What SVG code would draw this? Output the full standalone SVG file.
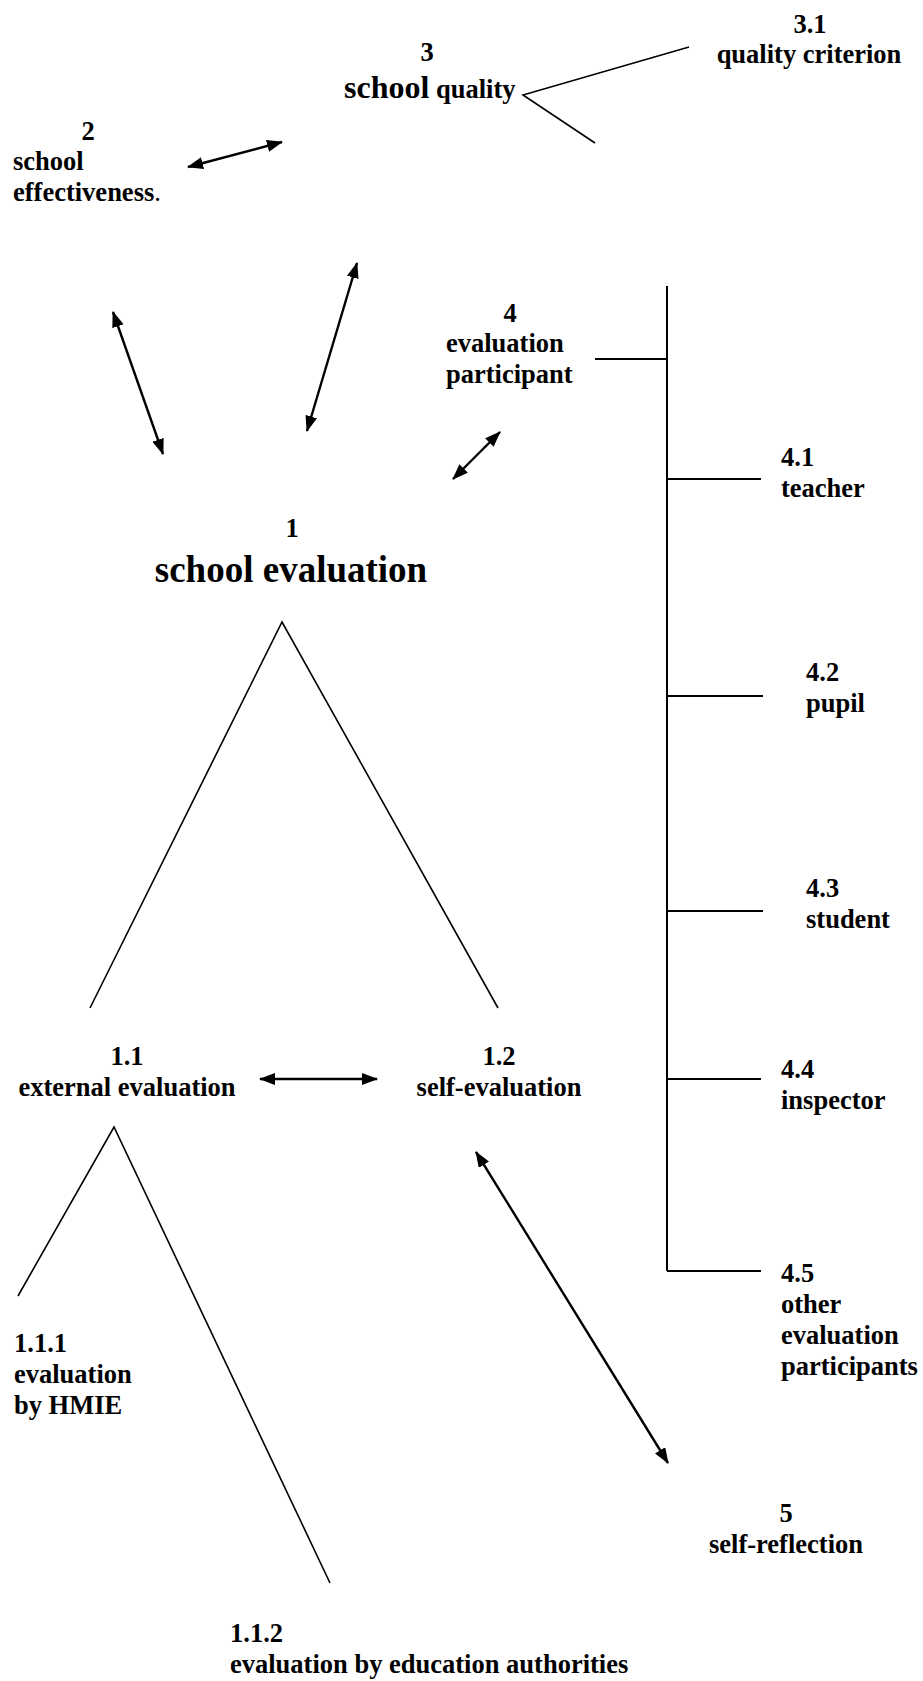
<svg xmlns="http://www.w3.org/2000/svg" width="923" height="1681" viewBox="0 0 923 1681">
  <style>
    text { font-family: "Liberation Serif", "Times New Roman", serif; font-weight: bold; font-size: 26.5px; fill: #000; }
    .mid { text-anchor: middle; }
    .big { font-size: 37px; }
    .tree { stroke: #000; stroke-width: 1.6; fill: none; }
    .branch { stroke: #000; stroke-width: 2; fill: none; }
    .arrow { stroke: #000; stroke-width: 2.4; fill: none; marker-start: url(#head); marker-end: url(#head); }
  </style>
  <defs>
    <marker id="head" viewBox="0 0 16 12" refX="15" refY="6" markerWidth="16" markerHeight="12" markerUnits="userSpaceOnUse" orient="auto-start-reverse">
      <path d="M0,0 L16,6 L0,12 z" fill="#000"/>
    </marker>
  </defs>
  <rect width="923" height="1681" fill="#fff"/>

  <!-- connectors -->
  <g id="connectors">
    <!-- quality criterion fork -->
    <polyline class="tree" points="689,47 523,95 595,143"/>
    <!-- participant bracket -->
    <line class="branch" x1="595" y1="359" x2="667" y2="359"/>
    <line class="branch" x1="667" y1="286" x2="667" y2="1271"/>
    <line class="branch" x1="667" y1="479" x2="761" y2="479"/>
    <line class="branch" x1="667" y1="696" x2="763" y2="696"/>
    <line class="branch" x1="667" y1="911" x2="763" y2="911"/>
    <line class="branch" x1="667" y1="1079" x2="761" y2="1079"/>
    <line class="branch" x1="667" y1="1271" x2="761" y2="1271"/>
    <!-- school evaluation split -->
    <polyline class="tree" points="90,1008 282,622 498,1008"/>
    <!-- external evaluation split -->
    <polyline class="tree" points="18,1296 114,1127 330,1583"/>
    <!-- two-way arrows -->
    <line class="arrow" x1="188" y1="167" x2="282" y2="142"/>
    <line class="arrow" x1="113" y1="312" x2="163" y2="454"/>
    <line class="arrow" x1="357" y1="263" x2="307" y2="431"/>
    <line class="arrow" x1="500" y1="432" x2="453" y2="479"/>
    <line class="arrow" x1="260" y1="1079" x2="377" y2="1079"/>
    <line class="arrow" x1="476" y1="1152" x2="668" y2="1463"/>
  </g>

  <g id="node-3">
    <text class="mid" x="427" y="61">3</text>
    <text x="344" y="98"><tspan font-size="32px">school</tspan><tspan> quality</tspan></text>
  </g>
  <g id="node-3-1">
    <text class="mid" x="810" y="33">3.1</text>
    <text class="mid" x="809" y="63">quality criterion</text>
  </g>
  <g id="node-2">
    <text class="mid" x="88" y="140">2</text>
    <text x="13" y="170">school</text>
    <text x="13" y="201">effectiveness<tspan font-weight="normal">.</tspan></text>
  </g>
  <g id="node-4">
    <text class="mid" x="510" y="322">4</text>
    <text x="446" y="352">evaluation</text>
    <text x="446" y="383">participant</text>
  </g>
  <g id="node-4-1">
    <text x="781" y="466">4.1</text>
    <text x="781" y="497">teacher</text>
  </g>
  <g id="node-4-2">
    <text x="806" y="681">4.2</text>
    <text x="806" y="712">pupil</text>
  </g>
  <g id="node-4-3">
    <text x="806" y="897">4.3</text>
    <text x="806" y="928">student</text>
  </g>
  <g id="node-4-4">
    <text x="781" y="1078">4.4</text>
    <text x="781" y="1109">inspector</text>
  </g>
  <g id="node-4-5">
    <text x="781" y="1282">4.5</text>
    <text x="781" y="1313">other</text>
    <text x="781" y="1344">evaluation</text>
    <text x="781" y="1375">participants</text>
  </g>
  <g id="node-1">
    <text class="mid" x="292" y="537">1</text>
    <text class="mid big" x="291" y="582">school evaluation</text>
  </g>
  <g id="node-1-1">
    <text class="mid" x="127" y="1065">1.1</text>
    <text class="mid" x="127" y="1096">external evaluation</text>
  </g>
  <g id="node-1-2">
    <text class="mid" x="499" y="1065">1.2</text>
    <text class="mid" x="499" y="1096">self-evaluation</text>
  </g>
  <g id="node-1-1-1">
    <text x="14" y="1352">1.1.1</text>
    <text x="14" y="1383">evaluation</text>
    <text x="14" y="1414">by HMIE</text>
  </g>
  <g id="node-1-1-2">
    <text x="230" y="1642">1.1.2</text>
    <text x="230" y="1673">evaluation by education authorities</text>
  </g>
  <g id="node-5">
    <text class="mid" x="786" y="1522">5</text>
    <text class="mid" x="786" y="1553">self-reflection</text>
  </g>
</svg>
